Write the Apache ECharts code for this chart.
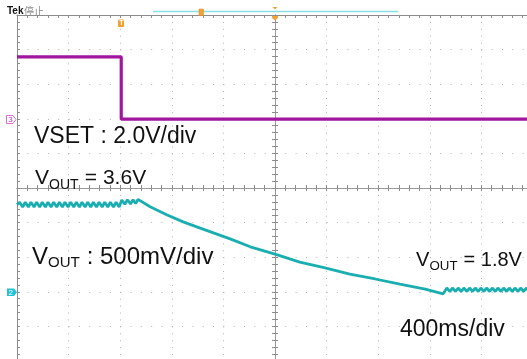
<!DOCTYPE html>
<html><head><meta charset="utf-8">
<script src="https://cdn.jsdelivr.net/npm/echarts@6/dist/echarts.min.js"></script>
<style>html,body{margin:0;padding:0;background:#fff;overflow:hidden;}#c{width:533px;height:361px;}</style>
</head><body><div id="c"></div>
<script>
// ---- data (in screen divisions, relative to the centre of the graticule) ----
const xRange = [-5, 5];           // 10 horizontal divisions, 400 ms/div
const yRange = [-5, 5];           // vertical divisions
// CH3: VSET step
const vsetX = [-5, -2.98, -2.98, 5];
const vsetY = [3.79, 3.79, 1.99, 1.99];
// CH2: VOUT with ripple then decay
const voutX = [
  -5.00,-4.95,-4.89,-4.84,-4.78,-4.73,-4.67,-4.62,-4.56,-4.51,-4.45,-4.40,-4.34,-4.29,-4.23,-4.18,-4.12,-4.07,-4.01,-3.96,
  -3.90,-3.85,-3.79,-3.74,-3.68,-3.63,-3.57,-3.52,-3.46,-3.41,-3.35,-3.30,-3.24,-3.19,-3.13,-3.08,-3.02,
  -2.97,-2.91,-2.86,-2.80,-2.75,-2.70,-2.655,
  -2.42,-2.09,-1.78,-1.45,-0.87,-0.48,0.00,0.48,0.97,1.45,1.94,2.42,2.91,3.26,
  3.33,3.39,3.44,3.50,3.55,3.61,3.66,3.72,3.77,3.83,3.88,3.94,3.99,4.05,4.10,4.16,4.21,4.27,4.32,4.38,4.43,4.49,4.54,
  4.60,4.65,4.71,4.76,4.82,4.87,4.93,4.98
];
const voutY = [
  -0.48,-0.41,-0.55,-0.41,-0.55,-0.41,-0.55,-0.41,-0.55,-0.41,-0.55,-0.41,-0.55,-0.41,-0.55,-0.41,-0.55,-0.41,-0.55,-0.41,
  -0.55,-0.41,-0.55,-0.41,-0.55,-0.41,-0.55,-0.41,-0.55,-0.41,-0.55,-0.41,-0.55,-0.41,-0.55,-0.41,-0.55,
  -0.35,-0.47,-0.34,-0.46,-0.34,-0.45,-0.33,
  -0.54,-0.78,-0.98,-1.16,-1.47,-1.70,-1.91,-2.14,-2.31,-2.49,-2.63,-2.78,-2.92,-3.06,
  -2.89,-2.99,-2.89,-2.99,-2.89,-2.99,-2.89,-2.99,-2.89,-2.99,-2.89,-2.99,-2.89,-2.99,-2.89,-2.99,-2.89,-2.99,-2.89,-2.99,-2.89,
  -2.99,-2.89,-2.99,-2.89,-2.99,-2.89,-2.99,-2.89,-2.99,-2.89
];
const labelTexts = {
  vset: 'VSET : 2.0V/div',
  v: 'V', sub: 'OUT',
  vout1: ' = 3.6V',
  voutScale: ' : 500mV/div',
  vout2: ' = 1.8V',
  time: '400ms/div',
  tek: 'Tek', state: '停止'
};

const FONT = '"Liberation Sans", Arial, sans-serif';
const axisColor = '#8c8c8c';
const gridColor = '#b4b4b4';

function zip(xs, ys){ return xs.map((x,i)=>[x, ys[i]]); }
function axis(kind, extra){
  const r = kind === 'x' ? xRange : yRange;
  return Object.assign({
    type:'value', min:r[0], max:r[1], interval:1,
    axisLabel:{show:false}, splitLine:{show:false},
    axisLine:{show:true, onZero:false, lineStyle:{color:axisColor, width:1}},
    axisTick:{show:true, inside:true, length:3, lineStyle:{color:axisColor}},
    minorTick:{show:true, splitNumber:5, length:3, lineStyle:{color:axisColor}}
  }, extra);
}
function txt(text, x, y, size, opts){
  opts = opts || {};
  return {type:'text', x:x, y:y, z:100, silent:true, scaleX: opts.scaleX || 1,
    style:{text:text, fontSize:size, fontFamily: opts.family || FONT, fontWeight: opts.weight || 'normal',
      fill: opts.color || '#111', align:'left', textAlign:'left', verticalAlign:'middle', textVerticalAlign:'middle'}};
}

const chart = echarts.init(document.getElementById('c'));
chart.setOption({
  animation:false,
  backgroundColor:'#fff',
  grid:{left:17, top:15, right:0, bottom:0, containLabel:false},
  xAxis:[
    axis('x', {position:'top', splitLine:{show:true, lineStyle:{color:gridColor, width:1, type:[1,5.92]}}}),
    axis('x', {position:'bottom', axisLine:{show:true, onZero:true, onZeroAxisIndex:0, lineStyle:{color:'#9a9a9a'}}}),
    axis('x', {position:'bottom', axisLine:{show:true, onZero:true, onZeroAxisIndex:0, lineStyle:{color:'#9a9a9a'}},
      axisTick:{show:true, inside:false, length:3, lineStyle:{color:axisColor}},
      minorTick:{show:true, splitNumber:5, length:3, lineStyle:{color:axisColor}}})
  ],
  yAxis:[
    axis('y', {position:'left', splitLine:{show:true, lineStyle:{color:gridColor, width:1, type:[1,9.32]}}}),
    axis('y', {position:'left', axisLine:{show:true, onZero:true, onZeroAxisIndex:0, lineStyle:{color:'#9a9a9a'}}}),
    axis('y', {position:'left', axisLine:{show:true, onZero:true, onZeroAxisIndex:0, lineStyle:{color:'#9a9a9a'}},
      axisTick:{show:true, inside:false, length:3, lineStyle:{color:axisColor}},
      minorTick:{show:true, splitNumber:5, length:3, lineStyle:{color:axisColor}}})
  ],
  series:[
    {type:'line', name:'VSET', xAxisIndex:0, yAxisIndex:0, data:zip(vsetX, vsetY), showSymbol:false, symbol:'none',
     lineStyle:{color:'#a0169e', width:3.2}, z:10, clip:true},
    {type:'line', name:'VOUT', xAxisIndex:0, yAxisIndex:0, data:zip(voutX, voutY), showSymbol:false, symbol:'none',
     lineStyle:{color:'#1aaeb0', width:2.8}, z:11, clip:true}
  ],
  graphic:[
    // header
    txt(labelTexts.tek, 7, 11, 10, {weight:'bold'}),
    txt(labelTexts.state, 24, 11, 10, {color:'#8a8a8a', family:'"Noto Sans CJK SC", sans-serif'}),
    {type:'line', z:50, shape:{x1:153, y1:11.5, x2:398, y2:11.5}, style:{stroke:'#86e0e4', lineWidth:1.6}},
    {type:'rect', z:51, shape:{x:199, y:9, width:4.5, height:6.5}, style:{fill:'#f2a23a', stroke:'#e08a10', lineWidth:0.5}},
    {type:'polygon', z:51, shape:{points:[[272.5,7],[277.5,7],[275,9.5]]}, style:{fill:'#f2a23a'}},
    {type:'polygon', z:51, shape:{points:[[272,16],[278,16],[278,18],[275,20.5],[272,18]]}, style:{fill:'#f2a23a'}},
    // trigger position marker
    {type:'rect', z:51, shape:{x:118, y:19.5, width:6, height:7.5, r:1}, style:{fill:'#f4a030'}},
    txt('T', 119.2, 23.3, 7, {color:'#fff', weight:'bold'}),
    // channel markers
    {type:'polygon', z:51, shape:{points:[[6.5,115.5],[13,115.5],[16,119.5],[13,123.5],[6.5,123.5]]}, style:{fill:'#fff', stroke:'#d070d0', lineWidth:1}},
    txt('3', 8.3, 119.7, 8, {color:'#b040b0'}),
    {type:'polygon', z:51, shape:{points:[[7,288.5],[14,288.5],[17,292.3],[14,296],[7,296]]}, style:{fill:'#22c2d6'}},
    txt('2', 8.5, 292.5, 8, {color:'#fff'}),
    // annotations
    txt(labelTexts.vset, 34, 137, 23),
    txt(labelTexts.v, 35, 178, 21),
    txt(labelTexts.sub, 49, 185, 14),
    txt(labelTexts.vout1, 79, 178, 21),
    txt(labelTexts.v, 32, 257, 24),
    txt(labelTexts.sub, 48, 263, 15),
    txt(labelTexts.voutScale, 80, 257, 24),
    txt(labelTexts.v, 416, 260, 20),
    txt(labelTexts.sub, 429.5, 266, 13.3),
    txt(labelTexts.vout2, 458, 260, 20),
    txt(labelTexts.time, 400, 330, 23)
  ]
});
</script>
</body></html>
